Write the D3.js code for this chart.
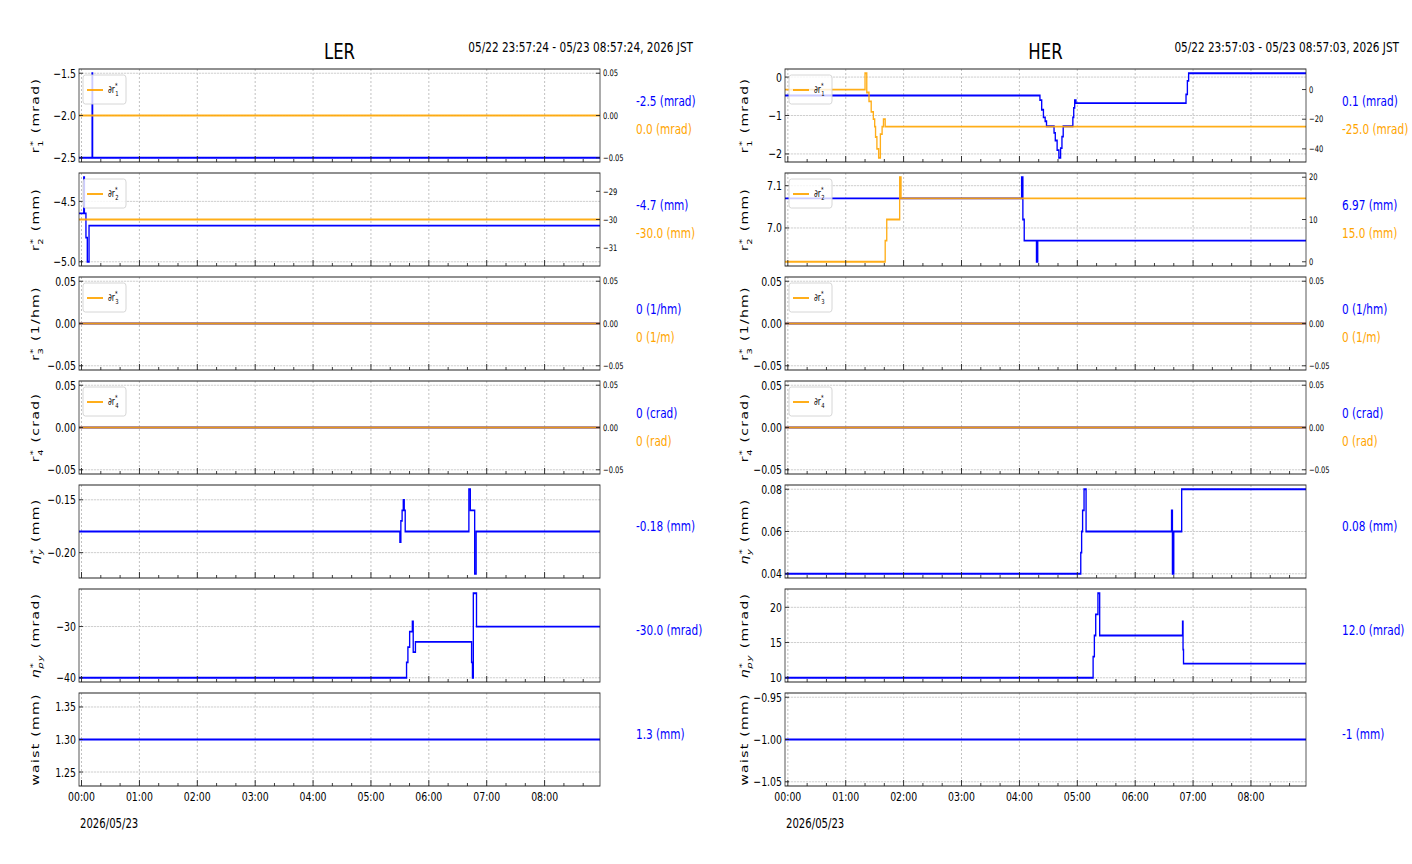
<!DOCTYPE html>
<html>
<head>
<meta charset="utf-8">
<script src="https://cdn.jsdelivr.net/npm/d3@7"></script>
<style>
  body { margin: 0; background: #fff; }
  svg text { font-family: "DejaVu Sans", sans-serif; }
</style>
</head>
<body>
<svg id="chart"></svg>
<script>
// ---- data (times in minutes from 2026/05/23 00:00 JST, step-after) ----
const lerSpan = [-2.6, 537.4];     // 05/22 23:57:24 - 05/23 08:57:24
const herSpan = [-2.95, 537.05];   // 05/22 23:57:03 - 05/23 08:57:03

const lerR1T = [-2.6, 11, 11.5];
const lerR1V = [-2.5, -1.5, -2.5];
const lerDr1T = [-2.6];
const lerDr1V = [0];
const lerR2T = [-2.6, 2.3, 3.0, 4.6, 6.0, 7.8];
const lerR2V = [-4.6, -4.3, -4.6, -4.8, -5.0, -4.7];
const lerDr2T = [-2.6];
const lerDr2V = [-30];
const lerR3T = [-2.6], lerR3V = [0];
const lerDr3T = [-2.6], lerDr3V = [0];
const lerR4T = [-2.6], lerR4V = [0];
const lerDr4T = [-2.6], lerDr4V = [0];
const lerEtaYT = [-2.6, 330, 331, 332.3, 333.5, 334.5, 335.5, 401.5, 403, 407.5, 409];
const lerEtaYV = [-0.18, -0.19, -0.17, -0.16, -0.15, -0.16, -0.18, -0.14, -0.16, -0.22, -0.18];
const lerEtaPyT = [-2.6, 336.9, 338.3, 340.1, 342.9, 343.8, 346.1, 404.3, 405.2, 406.1, 409.4];
const lerEtaPyV = [-40, -37, -34, -31, -29, -35, -33, -37, -40, -23.5, -30];
const lerWaistT = [-2.6], lerWaistV = [1.3];

const herR1T = [-2.95, 261.3, 263.1, 264.9, 266.7, 268.1, 275.9, 277.2, 279.1, 280.9, 282.7, 284.1, 285.4, 295.4, 296.3, 297.3, 298.6, 412.7, 414.1, 415.4];
const herR1V = [-0.48, -0.6, -0.85, -1.05, -1.15, -1.28, -1.45, -1.65, -1.9, -2.1, -1.85, -1.55, -1.28, -1.05, -0.8, -0.6, -0.68, -0.45, -0.1, 0.1];
const herDr1T = [-2.95, 80, 81.8, 84.1, 86.4, 88.6, 90, 90.9, 92.3, 94.1, 95.9, 97.7, 99.1, 100.9];
const herDr1V = [0, 11, -2, -8, -15, -20, -25, -32, -40, -46, -30, -25, -20, -25];
const herR2T = [-2.95, 242.3, 243.6, 245, 257.7, 259];
const herR2V = [7.07, 7.12, 7.02, 6.97, 6.92, 6.97];
const herDr2T = [-2.95, 100.9, 102.5, 115.9, 117.3];
const herDr2V = [0, 5, 10, 20, 15];
const herR3T = [-2.95], herR3V = [0];
const herDr3T = [-2.95], herDr3V = [0];
const herR4T = [-2.95], herR4V = [0];
const herDr4T = [-2.95], herDr4V = [0];
const herEtaYT = [-2.95, 303.6, 304.5, 305.5, 307, 309.1, 397.7, 398.6, 400, 408.2];
const herEtaYV = [0.04, 0.05, 0.06, 0.07, 0.08, 0.06, 0.07, 0.04, 0.06, 0.08];
const herEtaPyT = [-2.95, 316.4, 317.7, 319.1, 321.4, 323.2, 409.1, 409.6, 410.1];
const herEtaPyV = [10, 13, 16, 19, 22, 16, 18, 14, 12];
const herWaistT = [-2.95], herWaistV = [-1];

// tick values per panel
const lerLeftTicks = [[-2.5, -2.0, -1.5], [-5.0, -4.5], [-0.05, 0, 0.05], [-0.05, 0, 0.05], [-0.20, -0.15], [-40, -30], [1.25, 1.30, 1.35]];
const lerRightTicks = [[-0.05, 0, 0.05], [-31, -30, -29], [-0.05, 0, 0.05], [-0.05, 0, 0.05]];
const herLeftTicks = [[-2, -1, 0], [7.0, 7.1], [-0.05, 0, 0.05], [-0.05, 0, 0.05], [0.04, 0.06, 0.08], [10, 15, 20], [-1.05, -1.00, -0.95]];
const herRightTicks = [[-40, -20, 0], [0, 10, 20], [-0.05, 0, 0.05], [-0.05, 0, 0.05]];
const leftDecimals = [[1, 1, 2, 2, 2, 0, 2], [0, 1, 2, 2, 2, 0, 2]];
const rightDecimals = [[2, 0, 2, 2], [0, 0, 2, 2]];

const hourLabels = ['00:00', '01:00', '02:00', '03:00', '04:00', '05:00', '06:00', '07:00', '08:00'];

const lerValueTexts = [['-2.5 (mrad)', '0.0 (mrad)'], ['-4.7 (mm)', '-30.0 (mm)'], ['0 (1/hm)', '0 (1/m)'], ['0 (crad)', '0 (rad)'], ['-0.18 (mm)'], ['-30.0 (mrad)'], ['1.3 (mm)']];
const herValueTexts = [['0.1 (mrad)', '-25.0 (mrad)'], ['6.97 (mm)', '15.0 (mm)'], ['0 (1/hm)', '0 (1/m)'], ['0 (crad)', '0 (rad)'], ['0.08 (mm)'], ['12.0 (mrad)'], ['-1 (mm)']];

const yLabels = [
  { kind: 'r', idx: '1', unit: 'mrad' },
  { kind: 'r', idx: '2', unit: 'mm' },
  { kind: 'r', idx: '3', unit: '1/hm' },
  { kind: 'r', idx: '4', unit: 'crad' },
  { kind: 'eta', idx: 'y', unit: 'mm' },
  { kind: 'eta', idx: 'py', unit: 'mrad' },
  { kind: 'plain', text: 'waist', unit: 'mm' }
];

const lerSeries = [
  [[lerR1T, lerR1V], [lerDr1T, lerDr1V]],
  [[lerR2T, lerR2V], [lerDr2T, lerDr2V]],
  [[lerR3T, lerR3V], [lerDr3T, lerDr3V]],
  [[lerR4T, lerR4V], [lerDr4T, lerDr4V]],
  [[lerEtaYT, lerEtaYV]],
  [[lerEtaPyT, lerEtaPyV]],
  [[lerWaistT, lerWaistV]]
];
const herSeries = [
  [[herR1T, herR1V], [herDr1T, herDr1V]],
  [[herR2T, herR2V], [herDr2T, herDr2V]],
  [[herR3T, herR3V], [herDr3T, herDr3V]],
  [[herR4T, herR4V], [herDr4T, herDr4V]],
  [[herEtaYT, herEtaYV]],
  [[herEtaPyT, herEtaPyV]],
  [[herWaistT, herWaistV]]
];

// ---- layout ----
const K = 0.75;  // the original figure looks squeezed horizontally
const W = 1412, H = 864;
const vx = x => x / K;
const panelTops = [69, 173, 277, 381, 485, 589, 693];
const panelH = 93;
const BLUE = '#0000ff', ORANGE = '#ffa500';
const MINUS = '\u2212';

const svg = d3.select('#chart')
  .attr('width', W).attr('height', H)
  .attr('viewBox', `0 0 ${vx(W)} ${H}`)
  .attr('preserveAspectRatio', 'none');

const base = new Date(2026, 4, 23, 0, 0, 0);
const toDate = m => new Date(base.getTime() + m * 60000);

function mplDomain(vals) {
  let lo = d3.min(vals), hi = d3.max(vals);
  if (lo === hi) {
    const d = lo === 0 ? 0.05 : Math.abs(lo) * 0.05;
    lo -= d; hi += d;
  }
  const m = (hi - lo) * 0.05;
  return [lo - m, hi + m];
}

const fmt = (v, d) => (v < -1e-12 ? MINUS : '') + Math.abs(v).toFixed(d);

const columns = [
  { name: 'LER', left: 79, right: 600, span: lerSpan, series: lerSeries, leftTicks: lerLeftTicks, rightTicks: lerRightTicks,
    texts: lerValueTexts, range: '05/22 23:57:24 - 05/23 08:57:24, 2026 JST', ylabelX: 39, dec: 0 },
  { name: 'HER', left: 785, right: 1306, span: herSpan, series: herSeries, leftTicks: herLeftTicks, rightTicks: herRightTicks,
    texts: herValueTexts, range: '05/22 23:57:03 - 05/23 08:57:03, 2026 JST', ylabelX: 748, dec: 1 }
];

let clipId = 0;

columns.forEach(col => {
  const g = svg.append('g');
  const cx = vx((col.left + col.right) / 2);

  g.append('text').attr('x', cx).attr('y', 59).attr('text-anchor', 'middle')
    .attr('font-size', 22).attr('fill', '#000').text(col.name);
  g.append('text').attr('x', vx(col.left + 614)).attr('y', 52).attr('text-anchor', 'end')
    .attr('font-size', 14).attr('fill', '#000').text(col.range);

  const x = d3.scaleTime()
    .domain([toDate(col.span[0]), toDate(col.span[1])])
    .range([vx(col.left), vx(col.right)]);
  const majors = d3.timeHour.every(1).range(toDate(col.span[0]), toDate(col.span[1]));
  const minors = d3.timeMinute.every(20).range(toDate(col.span[0]), toDate(col.span[1]))
    .filter(d => d.getMinutes() !== 0);

  col.series.forEach((ser, i) => {
    const top = panelTops[i], bottom = top + panelH;
    const pg = g.append('g');
    const [mainT, mainV] = ser[0];
    const y = d3.scaleLinear().domain(mplDomain(mainV)).range([bottom, top]);
    const lt = col.leftTicks[i];
    const ld = leftDecimals[col.dec][i];

    // grid
    pg.selectAll('.gx').data(majors).join('line')
      .attr('x1', d => x(d)).attr('x2', d => x(d)).attr('y1', top).attr('y2', bottom)
      .attr('stroke', '#b8b8b8').attr('stroke-width', 1).attr('stroke-dasharray', '2,2');
    pg.selectAll('.gy').data(lt).join('line')
      .attr('x1', vx(col.left)).attr('x2', vx(col.right)).attr('y1', d => y(d)).attr('y2', d => y(d))
      .attr('stroke', '#c8c8c8').attr('stroke-width', 1).attr('stroke-dasharray', '3,1');

    const id = 'clip' + (clipId++);
    pg.append('clipPath').attr('id', id).append('rect')
      .attr('x', vx(col.left)).attr('y', top).attr('width', vx(col.right) - vx(col.left)).attr('height', panelH);

    const stepLine = (T, V, ys) => {
      const pts = T.map((t, k) => [t, V[k]]);
      pts.push([col.span[1], V[V.length - 1]]);
      return d3.line().x(d => x(toDate(d[0]))).y(d => ys(d[1])).curve(d3.curveStepAfter)(pts);
    };

    const lines = pg.append('g').attr('clip-path', `url(#${id})`);
    lines.append('path').attr('d', stepLine(mainT, mainV, y))
      .attr('fill', 'none').attr('stroke', BLUE).attr('stroke-width', 1.8);

    let y2 = null;
    if (ser[1]) {
      const [twT, twV] = ser[1];
      y2 = d3.scaleLinear().domain(mplDomain(twV)).range([bottom, top]);
      lines.append('path').attr('d', stepLine(twT, twV, y2))
        .attr('fill', 'none').attr('stroke', ORANGE).attr('stroke-width', 1.8).attr('stroke-opacity', 0.9);
    }

    // frame
    pg.append('rect').attr('x', vx(col.left)).attr('y', top)
      .attr('width', vx(col.right) - vx(col.left)).attr('height', panelH)
      .attr('fill', 'none').attr('stroke', '#222').attr('stroke-width', 1);

    // bottom ticks (inward)
    pg.selectAll('.tM').data(majors).join('line')
      .attr('x1', d => x(d)).attr('x2', d => x(d)).attr('y1', bottom).attr('y2', bottom - 6)
      .attr('stroke', '#222').attr('stroke-width', 1.2);
    pg.selectAll('.tm').data(minors).join('line')
      .attr('x1', d => x(d)).attr('x2', d => x(d)).attr('y1', bottom).attr('y2', bottom - 3)
      .attr('stroke', '#222').attr('stroke-width', 1);

    // left ticks + labels
    pg.selectAll('.ly').data(lt).join('line')
      .attr('x1', vx(col.left)).attr('x2', vx(col.left + 4)).attr('y1', d => y(d)).attr('y2', d => y(d))
      .attr('stroke', '#222');
    pg.selectAll('.lyl').data(lt).join('text')
      .attr('x', vx(col.left - 3)).attr('y', d => y(d)).attr('dy', '0.36em')
      .attr('text-anchor', 'end').attr('font-size', 12.5).attr('fill', '#000')
      .text(d => fmt(d, ld));

    // right (twin) ticks
    if (y2) {
      const rt = col.rightTicks[i];
      const rd = rightDecimals[col.dec][i];
      pg.selectAll('.ry').data(rt).join('line')
        .attr('x1', vx(col.right)).attr('x2', vx(col.right - 4)).attr('y1', d => y2(d)).attr('y2', d => y2(d))
        .attr('stroke', '#222');
      pg.selectAll('.ryl').data(rt).join('text')
        .attr('x', vx(col.right + 3)).attr('y', d => y2(d)).attr('dy', '0.36em')
        .attr('font-size', 9).attr('fill', '#000')
        .text(d => fmt(d, rd));

      // legend
      const lx = col.left + 4, ly = top + 6;
      pg.append('rect').attr('x', vx(lx)).attr('y', ly).attr('width', vx(43)).attr('height', 29)
        .attr('rx', 3).attr('fill', '#fff').attr('fill-opacity', 0.8)
        .attr('stroke', '#d0d0d0').attr('stroke-width', 1);
      pg.append('line').attr('x1', vx(lx + 4)).attr('x2', vx(lx + 20)).attr('y1', ly + 15).attr('y2', ly + 15)
        .attr('stroke', ORANGE).attr('stroke-width', 1.8);
      const lt2 = pg.append('text').attr('x', vx(lx + 25)).attr('y', ly + 18).attr('font-size', 10).attr('fill', '#000');
      lt2.append('tspan').text('\u2202r');
      lt2.append('tspan').attr('font-size', 7).attr('dy', -5).text('*');
      lt2.append('tspan').attr('font-size', 7).attr('dx', -3).attr('dy', 8).text(yLabels[i].idx);
    }

    // y label
    const lab = yLabels[i];
    const yl = pg.append('text')
      .attr('transform', `translate(${vx(col.ylabelX)},${top + panelH / 2}) rotate(-90)`)
      .attr('text-anchor', 'middle').attr('font-size', 14).attr('letter-spacing', 1.3).attr('fill', '#000');
    if (lab.kind === 'r') {
      yl.append('tspan').text('r');
      yl.append('tspan').attr('font-size', 10).attr('dy', -5).text('*');
      yl.append('tspan').attr('font-size', 10).attr('dx', -7).attr('dy', 10).text(lab.idx);
      yl.append('tspan').attr('dy', -5).text(` (${lab.unit})`);
    } else if (lab.kind === 'eta') {
      yl.append('tspan').attr('font-style', 'italic').text('\u03b7');
      yl.append('tspan').attr('font-size', 10).attr('dy', -5).text('*');
      yl.append('tspan').attr('font-size', 10).attr('font-style', 'italic').attr('dx', -7).attr('dy', 10).text(lab.idx);
      yl.append('tspan').attr('dy', -5).text(` (${lab.unit})`);
    } else {
      yl.text(`${lab.text} (${lab.unit})`);
    }

    // current-value texts
    const txt = col.texts[i];
    const tys = txt.length === 2 ? [top + 32, top + 60] : [top + 41];
    txt.forEach((t, k) => {
      pg.append('text').attr('x', vx(col.right + 36)).attr('y', tys[k]).attr('dy', '0.36em')
        .attr('font-size', 14).attr('fill', k === 0 ? BLUE : ORANGE).text(t);
    });

    // x tick labels on last panel
    if (i === col.series.length - 1) {
      pg.selectAll('.xl').data(majors).join('text')
        .attr('x', d => x(d)).attr('y', bottom + 15).attr('text-anchor', 'middle')
        .attr('font-size', 12.5).attr('fill', '#000')
        .text((d, k) => hourLabels[k]);
      pg.append('text').attr('x', vx(col.left + 1)).attr('y', bottom + 42)
        .attr('font-size', 13.5).attr('fill', '#000').text('2026/05/23');
    }
  });
});
</script>
</body>
</html>
